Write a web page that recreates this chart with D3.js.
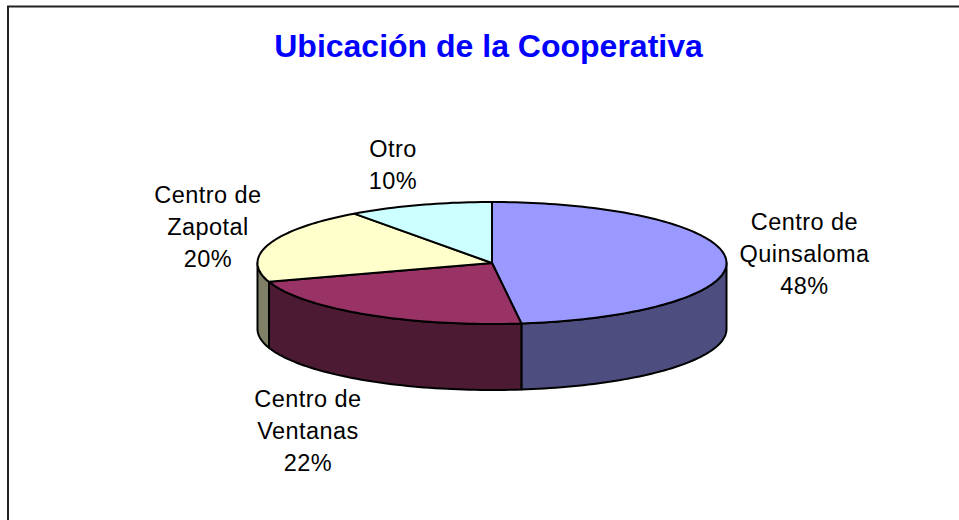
<!DOCTYPE html>
<html><head><meta charset="utf-8">
<script src="https://cdn.jsdelivr.net/npm/d3@7"></script>
<style>html,body{margin:0;padding:0;background:#fff}svg{display:block}text{font-family:"Liberation Sans",Arial,sans-serif}</style>
</head><body><script>
const categories = ["Centro de Quinsaloma","Centro de Ventanas","Centro de Zapotal","Otro"];
const labelLines = [["Centro de","Quinsaloma"],["Centro de","Ventanas"],["Centro de","Zapotal"],["Otro"]];
const values = [48,22,20,10];
const topColors = ["#9999ff","#993366","#ffffcc","#ccffff"];
const sideColors = ["#4d4d80","#4d1a33","#808066","#668080"];
const labelPos = [[804.5,222],[308,399],[208,195],[393,149]];
const title = "Ubicación de la Cooperativa";
const W=959,H=520,cx=492,cy=263,rx=234.5,ry=61,depth=66;
const svg=d3.select("body").append("svg").attr("width",W).attr("height",H);
svg.append("path").attr("d",`M8,${H}V6.5H${W}`).attr("fill","none").attr("stroke","#222").attr("stroke-width",2);
svg.append("text").attr("x",488.5).attr("y",57).attr("text-anchor","middle").attr("font-size",32).attr("font-weight","bold").attr("fill","#0000ff").text(title);
const arcs=d3.pie().sort(null)(values);
const px=a=>cx+rx*Math.sin(a), py=(a,d=0)=>cy-ry*Math.cos(a)+d;
const line=d3.line();
const samples=(a0,a1)=>{const n=Math.max(2,Math.ceil((a1-a0)*40));return d3.range(n+1).map(i=>a0+(a1-a0)*i/n);};
const stroke={stroke:"#000","stroke-width":2,"stroke-linejoin":"round"};
const style=(s)=>{for(const k in stroke)s.attr(k,stroke[k]);return s;};
// outer wall: visible only over the lower half (angles pi/2..3pi/2)
arcs.forEach((d,i)=>{
  const a0=Math.max(d.startAngle,Math.PI/2),a1=Math.min(d.endAngle,Math.PI*1.5);
  if(a1<=a0)return;
  const s=samples(a0,a1);
  const pts=s.map(a=>[px(a),py(a)]).concat(s.slice().reverse().map(a=>[px(a),py(a,depth)]));
  style(svg.append("path").attr("d",line(pts)+"Z").attr("fill",sideColors[i]));
});
arcs.forEach((d,i)=>{
  const pts=[[cx,cy]].concat(samples(d.startAngle,d.endAngle).map(a=>[px(a),py(a)]));
  style(svg.append("path").attr("d",line(pts)+"Z").attr("fill",topColors[i]));
});
arcs.forEach((d,i)=>{
  const lines=labelLines[i].concat([values[i]+"%"]);
  const t=svg.append("text").attr("text-anchor","middle").attr("font-size",23.5).attr("letter-spacing",0.45).attr("fill","#000");
  lines.forEach((l,j)=>t.append("tspan").attr("x",labelPos[i][0]).attr("y",labelPos[i][1]+8+j*32).text(l));
});
</script></body></html>
